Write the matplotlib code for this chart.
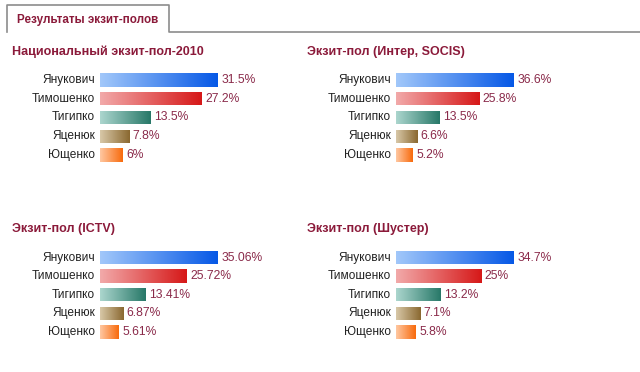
import numpy as np
import matplotlib
matplotlib.use("Agg")
import matplotlib.pyplot as plt
from matplotlib.colors import LinearSegmentedColormap
from matplotlib.patches import Rectangle

plt.rcParams['font.family'] = ['Liberation Sans', 'DejaVu Sans']

tab_title = "Результаты экзит-полов"
candidates = ["Янукович", "Тимошенко", "Тигипко", "Яценюк", "Ющенко"]

titles = ["Национальный экзит-пол-2010", "Экзит-пол (Интер, SOCIS)",
          "Экзит-пол (ICTV)", "Экзит-пол (Шустер)"]
national = [31.5, 27.2, 13.5, 7.8, 6]
socis = [36.6, 25.8, 13.5, 6.6, 5.2]
ictv = [35.06, 25.72, 13.41, 6.87, 5.61]
shuster = [34.7, 25, 13.2, 7.1, 5.8]
value_labels = [["31.5%", "27.2%", "13.5%", "7.8%", "6%"],
                ["36.6%", "25.8%", "13.5%", "6.6%", "5.2%"],
                ["35.06%", "25.72%", "13.41%", "6.87%", "5.61%"],
                ["34.7%", "25%", "13.2%", "7.1%", "5.8%"]]

# light -> dark gradient per candidate
bar_colors = [("#a2c8fa", "#0658e6"),
              ("#f2aaaa", "#d61818"),
              ("#acd6ce", "#277868"),
              ("#d8c8a8", "#8a6830"),
              ("#ffc8a2", "#f86a0c")]

title_color = "#8b1a3a"
value_color = "#8a2a4a"

W, H = 640, 372
fig = plt.figure(figsize=(W / 100, H / 100), dpi=100)
fig.patch.set_facecolor("white")

# tab header, drawn in pixel coordinates of the figure
bg = fig.add_axes([0, 0, 1, 1])
bg.set_xlim(0, W)
bg.set_ylim(H, 0)
bg.axis("off")
bg.plot([7, 7, 169, 169, W], [32, 4.5, 4.5, 31.5, 31.5], color="#8c8c8c", lw=1.2)
bg.text(17, 20, tab_title, color=title_color, fontsize=8.4, fontweight="bold",
        va="center", ha="left")

# panel placements: (title x, title y, bar x0, bar y top, y bottom)
panels = [(12, 52, 100, 70.6, 164.4),
          (307, 52, 396, 70.6, 164.4),
          (12, 229, 100, 248.2, 341.3),
          (307, 229, 396, 248.2, 341.3)]
series = [national, socis, ictv, shuster]
bar_px = 118

for (tx, ty, x0, ytop, ybot), title, vals, labels in zip(panels, titles, series, value_labels):
    bg.text(tx, ty, title, color=title_color, fontsize=9.0, fontweight="bold",
            va="center", ha="left")
    ax = fig.add_axes([x0 / W, 1 - ybot / H, bar_px / W, (ybot - ytop) / H])
    vmax = max(vals)
    ax.set_xlim(0, vmax)
    ax.set_ylim(len(vals) - 0.5, -0.5)
    ax.axis("off")
    grad = np.linspace(0, 1, 256).reshape(1, -1)
    for i, (name, v, lab) in enumerate(zip(candidates, vals, labels)):
        c0, c1 = bar_colors[i]
        cmap = LinearSegmentedColormap.from_list("g%d" % i, [c0, c1])
        h = 0.36
        im = ax.imshow(grad, cmap=cmap, aspect="auto",
                       extent=(0, v, i + h, i - h), interpolation="bilinear")
        rect = Rectangle((0, i - h), v, 2 * h, fill=False, lw=0)
        ax.add_patch(rect)
        im.set_clip_path(rect)
        ax.text(v + vmax * 0.03, i, lab, color=value_color, fontsize=8.7,
                va="center", ha="left", clip_on=False)
        ax.text(-vmax * 0.04, i, name, color="#222222", fontsize=8.6,
                va="center", ha="right", clip_on=False)

fig.savefig("out.png", dpi=100)
